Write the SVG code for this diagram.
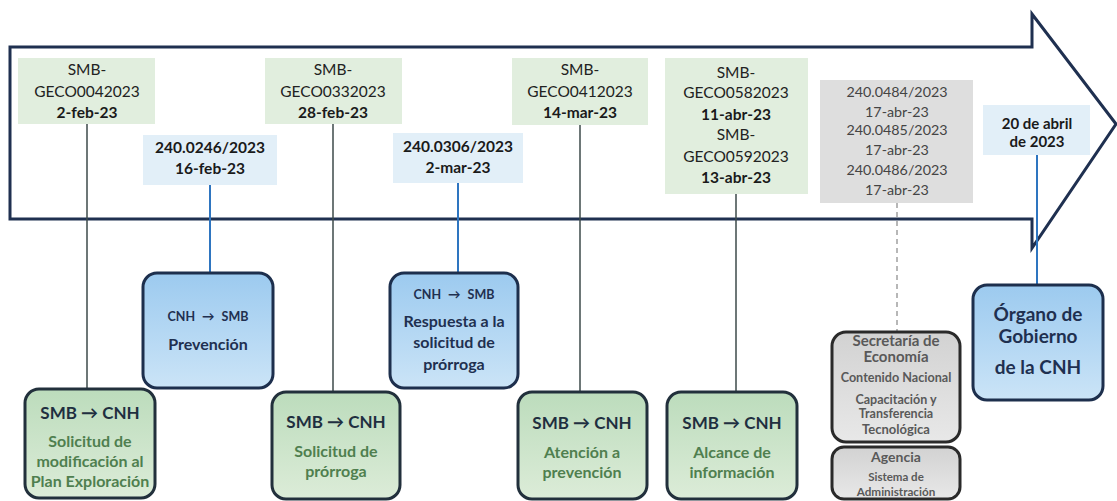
<svg xmlns="http://www.w3.org/2000/svg" width="1117" height="501" viewBox="0 0 1117 501">
<defs>
<linearGradient id="gGreen" x1="0" y1="0" x2="0" y2="1"><stop offset="0" stop-color="#bcdcbc"/><stop offset="1" stop-color="#dcecd8"/></linearGradient>
<linearGradient id="gBlue" x1="0" y1="0" x2="0" y2="1"><stop offset="0" stop-color="#9ccaef"/><stop offset="1" stop-color="#cbe4f7"/></linearGradient>
<linearGradient id="gGray" x1="0" y1="0" x2="0" y2="1"><stop offset="0" stop-color="#d2d2d2"/><stop offset="1" stop-color="#e8e8e8"/></linearGradient>
</defs>
<style>
text{font-family:Lato,"Liberation Sans",sans-serif;text-anchor:middle}
.lg{fill:#dcebd8;opacity:.85}
.lb{fill:#e2eff8}
.lgr{fill:#dedede}
.t{font-size:15.5px;fill:#222}
.tb{font-size:15.5px;font-weight:bold;fill:#1a1a1a}
.tg{font-size:14.3px;fill:#444}
.bx{stroke:#22303c;stroke-width:3}
.gn{fill:url(#gGreen)}
.bl{fill:url(#gBlue);stroke:#1d2f4d}
.gy{fill:url(#gGray);stroke:#2a2a2a}
.h1{font-size:17px;font-weight:bold;fill:#1f2f40}
.gt{font-size:16px;font-weight:bold;fill:#4f7f4f}
.h2{font-size:12.5px;font-weight:bold;fill:#1f3050;word-spacing:4px}
.bt{font-size:16px;font-weight:bold;fill:#1f3050}
.og{font-size:19px;font-weight:bold;fill:#1f3050}
.st{fill:#595959;font-weight:bold}
.ln{stroke:#3c4a4a;stroke-width:1.5;fill:none}
.lnb{stroke:#2e75c0;stroke-width:2;fill:none}
.lnd{stroke:#a0a0a0;stroke-width:1.5;stroke-dasharray:5 4;fill:none}
</style>
<g id="arrow">
<path d="M10,47 H1032 V14 L1116,124 L1032,248 V219 H10 Z" fill="#fff" stroke="#1f3050" stroke-width="3" stroke-linejoin="miter"/>
</g>
<g id="labels">
<g id="l1"><rect class="lg" x="18" y="58" width="137" height="66"/>
<text class="t" x="87" y="75">SMB-</text><text class="t" x="87" y="97">GECO0042023</text><text class="tb" x="87" y="118">2-feb-23</text></g>
<g id="l2"><rect class="lb" x="143" y="135" width="134" height="50"/>
<text class="tb" x="210" y="153">240.0246/2023</text><text class="tb" x="210" y="174">16-feb-23</text></g>
<g id="l3"><rect class="lg" x="265" y="58" width="137" height="66"/>
<text class="t" x="333" y="75">SMB-</text><text class="t" x="333" y="97">GECO0332023</text><text class="tb" x="333" y="118">28-feb-23</text></g>
<g id="l4"><rect class="lb" x="393" y="133" width="130" height="50"/>
<text class="tb" x="458" y="152">240.0306/2023</text><text class="tb" x="458" y="173">2-mar-23</text></g>
<g id="l5"><rect class="lg" x="512" y="58" width="136" height="67"/>
<text class="t" x="580" y="75">SMB-</text><text class="t" x="580" y="97">GECO0412023</text><text class="tb" x="580" y="118">14-mar-23</text></g>
<g id="l6"><rect class="lg" x="665" y="58" width="143" height="136"/>
<text class="t" x="736" y="78">SMB-</text><text class="t" x="736" y="98">GECO0582023</text><text class="tb" x="736" y="120">11-abr-23</text>
<text class="t" x="736" y="140">SMB-</text><text class="t" x="736" y="162">GECO0592023</text><text class="tb" x="736" y="183">13-abr-23</text></g>
<g id="l7"><rect class="lgr" x="820" y="80" width="153" height="123"/>
<text class="tg" x="897" y="97">240.0484/2023</text><text class="tg" x="897" y="117">17-abr-23</text>
<text class="tg" x="897" y="135">240.0485/2023</text><text class="tg" x="897" y="155">17-abr-23</text>
<text class="tg" x="897" y="175">240.0486/2023</text><text class="tg" x="897" y="195">17-abr-23</text></g>
<g id="l8"><rect class="lb" x="983" y="105" width="107" height="50"/>
<text class="tb" style="font-size:15px" x="1037" y="129">20 de abril</text><text class="tb" style="font-size:15px" x="1037" y="147">de 2023</text></g>
</g>
<g id="connectors">
<line class="ln" x1="87" y1="124" x2="87" y2="389"/>
<line class="lnb" x1="210" y1="185" x2="210" y2="273"/>
<line class="ln" x1="333" y1="124" x2="333" y2="392"/>
<line class="lnb" x1="458" y1="183" x2="458" y2="273"/>
<line class="ln" x1="580" y1="125" x2="580" y2="392"/>
<line class="ln" x1="736" y1="194" x2="736" y2="392"/>
<line class="lnd" x1="897" y1="203" x2="897" y2="332"/>
<line class="lnb" x1="1037" y1="155" x2="1037" y2="285"/>
</g>
<g id="nA"><rect class="bx gn" x="25" y="389" width="130" height="109" rx="14"/>
<text class="h1" x="90" y="419">SMB → CNH</text>
<text class="gt" x="90" y="447">Solicitud de</text><text class="gt" x="90" y="467">modificación al</text><text class="gt" x="90" y="487">Plan Exploración</text></g>
<g id="nB"><rect class="bx bl" x="143" y="273" width="130" height="115" rx="14"/>
<text class="h2" x="208" y="321">CNH → SMB</text><text class="bt" x="208" y="350">Prevención</text></g>
<g id="nC"><rect class="bx gn" x="272" y="392" width="128" height="107" rx="14"/>
<text class="h1" x="336" y="428">SMB → CNH</text>
<text class="gt" x="336" y="457">Solicitud de</text><text class="gt" x="336" y="477">prórroga</text></g>
<g id="nD"><rect class="bx bl" x="390" y="273" width="128" height="115" rx="14"/>
<text class="h2" x="454" y="299">CNH → SMB</text>
<text class="bt" x="454" y="327">Respuesta a la</text><text class="bt" x="454" y="348">solicitud de</text><text class="bt" x="454" y="370">prórroga</text></g>
<g id="nE"><rect class="bx gn" x="518" y="392" width="129" height="107" rx="14"/>
<text class="h1" x="582" y="429">SMB → CNH</text>
<text class="gt" x="582" y="458">Atención a</text><text class="gt" x="582" y="478">prevención</text></g>
<g id="nF"><rect class="bx gn" x="667" y="392" width="130" height="107" rx="14"/>
<text class="h1" x="732" y="429">SMB → CNH</text>
<text class="gt" x="732" y="458">Alcance de</text><text class="gt" x="732" y="478">información</text></g>
<g id="nG"><rect class="bx gy" x="832" y="332" width="128" height="110" rx="14"/>
<text class="st" style="font-size:15px" x="896" y="346">Secretaría de</text>
<text class="st" style="font-size:15px" x="896" y="362">Economía</text>
<text class="st" style="font-size:12.6px" x="896" y="382">Contenido Nacional</text>
<text class="st" style="font-size:12.5px" x="896" y="404">Capacitación y</text>
<text class="st" style="font-size:12.5px" x="896" y="418">Transferencia</text>
<text class="st" style="font-size:13px" x="896" y="434">Tecnológica</text></g>
<g id="nH"><rect class="bx gy" x="832" y="447" width="128" height="52" rx="12"/>
<text class="st" style="font-size:14px" x="896" y="462">Agencia</text>
<text class="st" style="font-size:11.5px" x="896" y="481">Sistema de</text>
<text class="st" style="font-size:11.7px" x="896" y="496">Administración</text></g>
<g id="nI"><rect class="bx bl" x="973" y="285" width="130" height="115" rx="14"/>
<text class="og" x="1038" y="321">Órgano de</text><text class="og" x="1038" y="343">Gobierno</text><text class="og" x="1038" y="374">de la CNH</text></g>
</svg>
